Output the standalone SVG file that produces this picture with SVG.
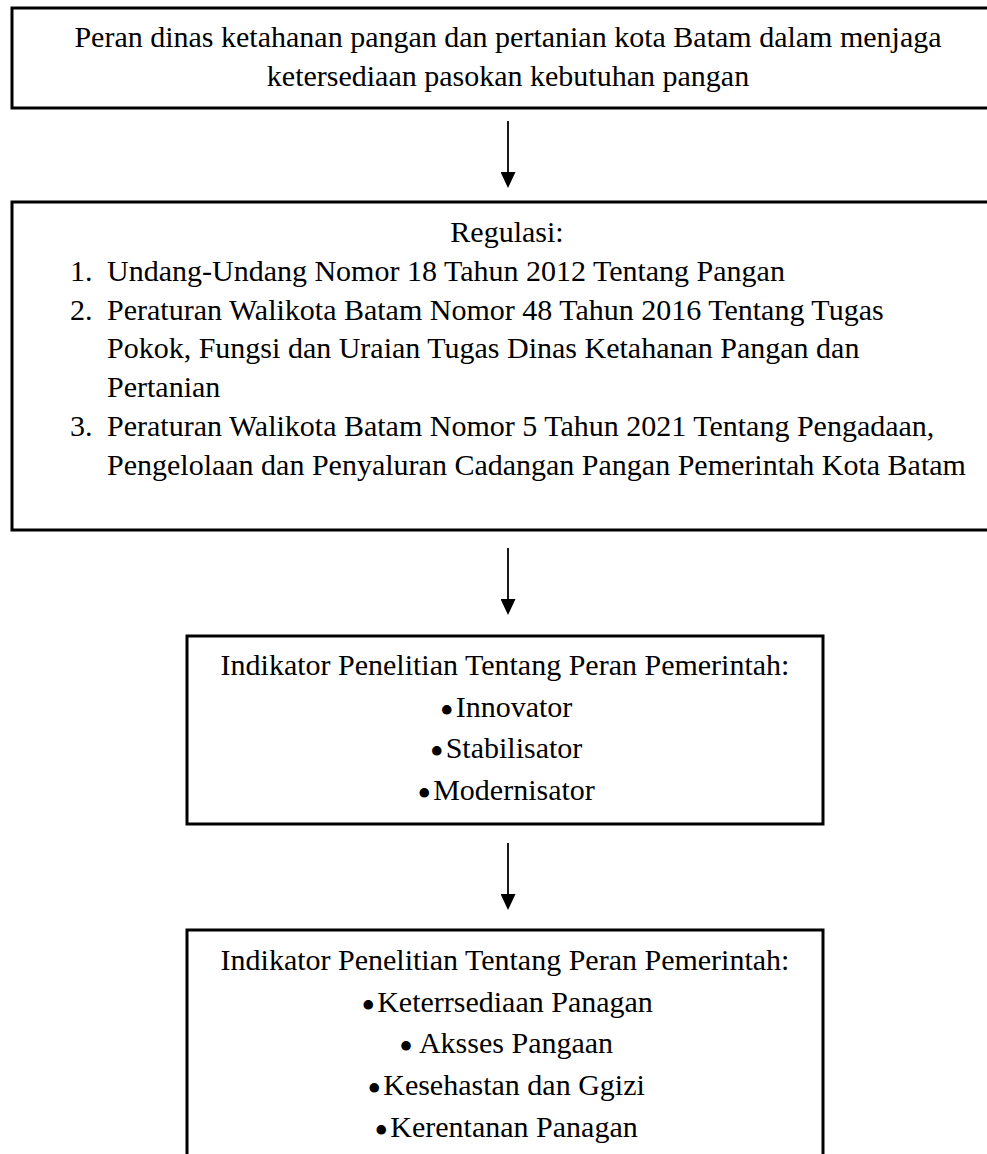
<svg xmlns="http://www.w3.org/2000/svg" width="987" height="1154" viewBox="0 0 987 1154">
<style>
  .box { fill: #ffffff; stroke: #000000; stroke-width: 3; }
  .t { font-family: "Liberation Serif", "Times New Roman", serif; font-size: 30px; fill: #000000; }
  .c { text-anchor: middle; }
  .b { font-size: 40px; }
  .conn { stroke: #000000; stroke-width: 1.8; fill: none; }
</style>
<defs>
  <marker id="arrow" markerUnits="userSpaceOnUse" markerWidth="16" markerHeight="15" refX="2" refY="7.5" orient="auto">
    <path d="M0,0 L16,7.5 L0,15 z" fill="#000000"/>
  </marker>
</defs>
<rect width="987" height="1154" fill="#ffffff"/>

<g id="node-peran">
  <rect class="box" x="12" y="8" width="990" height="100"/>
  <text class="t c" x="508" y="47">Peran dinas ketahanan pangan dan pertanian kota Batam dalam menjaga</text>
  <text class="t c" x="508" y="86">ketersediaan pasokan kebutuhan pangan</text>
</g>

<g id="node-regulasi">
  <rect class="box" x="12" y="202" width="990" height="328"/>
  <text class="t c" x="507" y="242">Regulasi:</text>
  <text class="t" x="70" y="281">1.</text>
  <text class="t" x="107" y="281">Undang-Undang Nomor 18 Tahun 2012 Tentang Pangan</text>
  <text class="t" x="70" y="320">2.</text>
  <text class="t" x="107" y="320">Peraturan Walikota Batam Nomor 48 Tahun 2016 Tentang Tugas</text>
  <text class="t" x="107" y="358">Pokok, Fungsi dan Uraian Tugas Dinas Ketahanan Pangan dan</text>
  <text class="t" x="107" y="397">Pertanian</text>
  <text class="t" x="70" y="436">3.</text>
  <text class="t" x="107" y="436">Peraturan Walikota Batam Nomor 5 Tahun 2021 Tentang Pengadaan,</text>
  <text class="t" x="107" y="475">Pengelolaan dan Penyaluran Cadangan Pangan Pemerintah Kota Batam</text>
</g>

<g id="node-indikator-peran">
  <rect class="box" x="187" y="636" width="636" height="188"/>
  <text class="t c" x="505" y="675">Indikator Penelitian Tentang Peran Pemerintah:</text>
  <text class="t c" x="506" y="717"><tspan class="b" dy="7">•</tspan><tspan dx="2" dy="-7">Innovator</tspan></text>
  <text class="t c" x="506" y="758"><tspan class="b" dy="7">•</tspan><tspan dx="2" dy="-7">Stabilisator</tspan></text>
  <text class="t c" x="506" y="800"><tspan class="b" dy="7">•</tspan><tspan dx="2" dy="-7">Modernisator</tspan></text>
</g>

<g id="node-indikator-pangan">
  <rect class="box" x="187" y="930" width="636" height="260"/>
  <text class="t c" x="505" y="970">Indikator Penelitian Tentang Peran Pemerintah:</text>
  <text class="t c" x="507" y="1012"><tspan class="b" dy="7">•</tspan><tspan dx="2" dy="-7">Keterrsediaan Panagan</tspan></text>
  <text class="t c" x="506" y="1053"><tspan class="b" dy="7">•</tspan><tspan dx="6" dy="-7">Aksses Pangaan</tspan></text>
  <text class="t c" x="506" y="1095"><tspan class="b" dy="7">•</tspan><tspan dx="2" dy="-7">Kesehastan dan Ggizi</tspan></text>
  <text class="t c" x="506" y="1137"><tspan class="b" dy="7">•</tspan><tspan dx="2" dy="-7">Kerentanan Panagan</tspan></text>
</g>

<g id="connectors">
  <line class="conn" x1="508" y1="121" x2="508" y2="174" marker-end="url(#arrow)"/>
  <line class="conn" x1="508" y1="548" x2="508" y2="601" marker-end="url(#arrow)"/>
  <line class="conn" x1="508" y1="843" x2="508" y2="896" marker-end="url(#arrow)"/>
</g>
</svg>
